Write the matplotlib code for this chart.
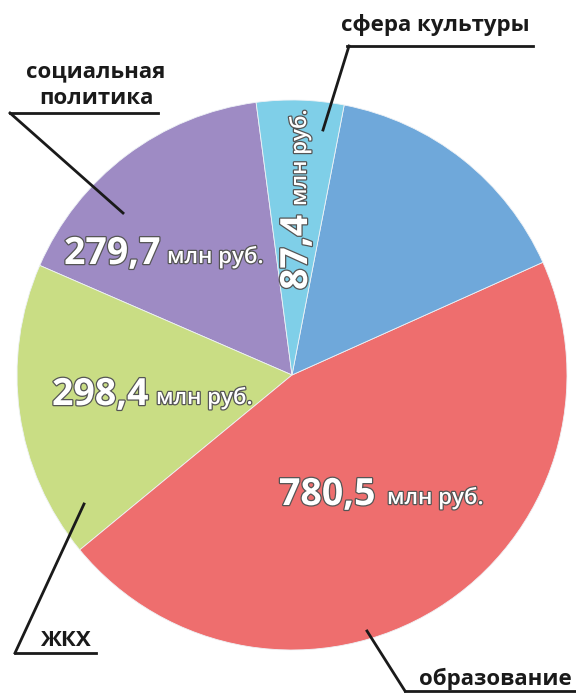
import numpy as np
import matplotlib
matplotlib.use("Agg")
import matplotlib.pyplot as plt
import matplotlib.patheffects as pe

# данные (млн руб.)
sectors = ["социальная политика", "ЖКХ", "образование", "прочее", "сфера культуры"]
values = [279.7, 298.4, 780.5, 260.0, 87.4]
colors = ["#9e8bc4", "#c9dd84", "#ee6e6e", "#6fa8da", "#7fcfe8"]
value_text = ["279,7", "298,4", "780,5", "", "87,4"]
unit = "млн руб."

W, H = 576, 693
fig = plt.figure(figsize=(W / 100, H / 100), dpi=100)
ax = fig.add_axes([0, 0, 1, 1])

def Y(py):
    # пиксели сверху -> координаты осей
    return H - py

ax.pie(values, colors=colors, startangle=97.5, counterclock=True,
       center=(292, Y(375)), radius=275,
       wedgeprops=dict(edgecolor="#eef2f6", linewidth=0.6))
ax.set_xlim(0, W)
ax.set_ylim(0, H)
ax.set_aspect("equal")
ax.axis("off")

font = "Open Sans"
stroke = [pe.withStroke(linewidth=1.8, foreground="#555555")]

# подписи значений
num_pos = {0: (64, 264, 167), 1: (52, 405, 156), 2: (279, 505, 387)}
for i, (x0, base, xu) in num_pos.items():
    ax.text(x0, Y(base), value_text[i], fontsize=27, fontweight="bold", family=font,
            color="white", ha="left", va="baseline", path_effects=stroke)
    ax.text(xu, Y(base - 1), unit, fontsize=16, fontweight="semibold", family=font,
            color="white", ha="left", va="baseline", path_effects=stroke)

# вертикальная подпись в узком секторе
ax.text(307, Y(290), value_text[4], fontsize=27, fontweight="bold", family=font,
        color="white", rotation=90, rotation_mode="anchor",
        ha="left", va="baseline", path_effects=stroke)
ax.text(306, Y(206), unit, fontsize=16, fontweight="semibold", family=font,
        color="white", rotation=90, rotation_mode="anchor",
        ha="left", va="baseline", path_effects=stroke)

# названия с выносками
lw = 2.0
lab = dict(fontsize=16, fontweight="bold", family=font, color="#1a1a1a",
           ha="center", va="center")

ax.text(435, Y(25), "сфера культуры", **lab)
ax.plot([347, 533], [Y(46), Y(46)], color="#1a1a1a", lw=lw)
ax.plot([349, 323], [Y(46), Y(130)], color="#1a1a1a", lw=lw)

ax.text(96, Y(72), "социальная", **lab)
ax.text(96, Y(99), "политика", **lab)
ax.plot([10, 158], [Y(113), Y(113)], color="#1a1a1a", lw=lw)
ax.plot([10, 123], [Y(113), Y(213)], color="#1a1a1a", lw=lw)

ax.text(65, Y(640), "ЖКХ", **lab)
ax.plot([15, 96], [Y(653), Y(653)], color="#1a1a1a", lw=lw)
ax.plot([15, 84], [Y(653), Y(504)], color="#1a1a1a", lw=lw)

ax.text(495, Y(679), "образование", **lab)
ax.plot([405, 576], [Y(691), Y(691)], color="#1a1a1a", lw=lw)
ax.plot([405, 367], [Y(691), Y(631)], color="#1a1a1a", lw=lw)

fig.savefig("out.png", dpi=100)
